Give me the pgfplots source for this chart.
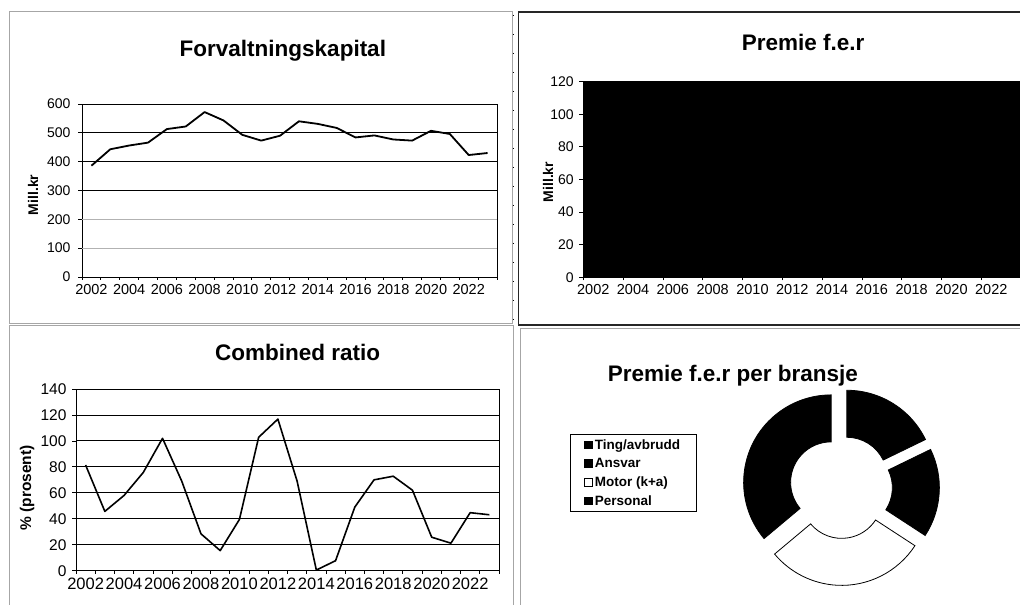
\documentclass[border=0pt]{standalone}
\usepackage{fontspec}
\setmainfont{Liberation Sans}
\usepackage{pgfplots}
\pgfplotsset{compat=1.18}

\newcommand\fs[1]{\fontsize{#1}{#1}\selectfont}

% Excel-like look shared by the three line/area panels
\pgfplotsset{
  excel/.style={
    scale only axis, anchor=south west,
    xmin=2001.5, xmax=2023.5, ymin=0,
    xtick={2002,2004,...,2022},
    major x tick style={draw=none},
    tick align=outside, tick pos=left,
    major tick length=4pt, minor tick length=3pt,
    every tick/.append style={black, line width=0.8pt},
    axis line style={black, line width=0.8pt},
    /pgf/number format/assume math mode=true,
    /pgf/number format/1000 sep={},
    title style={anchor=base, font=\fs{22.5}\bfseries},
  },
}

% one exploded piece of the doughnut: start angle, end angle, fill
\newcommand\ringpart[3]{%
  \path[draw=black, line width=0.8pt, fill=#3,
        shift={(axis cs:0,0)}, shift={({(#1+#2)/2}:10.9pt)}]
    (#1:87.5pt) arc[start angle=#1, end angle=#2, radius=87.5pt]
    -- (#2:40.5pt) arc[start angle=#2, end angle=#1, radius=40.5pt] -- cycle;}

\begin{document}
\begin{tikzpicture}
\useasboundingbox (0pt,0pt) rectangle (1020pt,605pt);
\clip (0pt,0pt) rectangle (1020pt,605pt);

% panel frames
\draw[gray!70, line width=1pt] (9pt,281.5pt) rectangle (512.5pt,593pt);
\draw[black, line width=1pt, dash pattern=on 1pt off 18pt] (513pt,590pt) -- (513pt,283pt);
\draw[black!85, line width=1.5pt] (518.3pt,280pt) rectangle (1030pt,593pt);
\draw[gray!70, line width=1pt] (9pt,-10pt) rectangle (513pt,279pt);
\draw[gray!70, line width=1pt] (520pt,-10pt) rectangle (1030pt,276.5pt);

% ---------- Forvaltningskapital ----------
\begin{axis}[excel,
  at={(82pt,328pt)}, width=415pt, height=173pt,
  ymax=600, ytick={0,300,400,500,600},
  extra y ticks={100,200},
  extra y tick style={grid=major, major grid style={gray!60, line width=0.6pt}},
  minor xtick={2001.5,2002.5,...,2023.5},
  ymajorgrids, major grid style={black, line width=0.9pt},
  xticklabel style={font=\fs{14.5}},
  yticklabel style={font=\fs{14}, xshift=-4pt},
  title={Forvaltningskapital},
  title style={at={(axis description cs:0.484,1.239)}},
  ylabel={Mill.kr},
  every axis y label/.style={at={(axis description cs:-0.118,0.474)}, rotate=90, anchor=center, font=\fs{14}\bfseries},
]
\addplot[black, line width=1.8pt, line join=round, mark=none] table {
x    y
2002 386
2003 443
2004 456
2005 466
2006 513
2007 522
2008 572
2009 543
2010 493
2011 473
2012 490
2013 540
2014 531
2015 517
2016 484
2017 491
2018 477
2019 473
2020 507
2021 496
2022 423
2023 430
};
\end{axis}

% ---------- Premie f.e.r ----------
\begin{axis}[excel,
  at={(583.3pt,327.7pt)}, width=437.8pt, height=195.6pt,
  ymax=120, ytick={0,20,...,120},
  minor xtick={2001.5,2003.5,...,2023.5},
  axis background/.style={fill=black},
  xticklabel style={font=\fs{14.5}},
  yticklabel style={font=\fs{14}, xshift=-2pt},
  title={Premie f.e.r},
  title style={at={(axis description cs:0.502,1.128)}},
  ylabel={Mill.kr},
  every axis y label/.style={at={(axis description cs:-0.0806,0.487)}, rotate=90, anchor=center, font=\fs{14}\bfseries},
]
\end{axis}

% ---------- Combined ratio ----------
\begin{axis}[excel,
  at={(76pt,34.3pt)}, width=423pt, height=181.7pt,
  ymax=140, ytick={0,20,...,140},
  minor xtick={2001.5,2002.5,...,2023.5},
  ymajorgrids, major grid style={black, line width=0.9pt},
  xticklabel style={font=\fs{16.5}},
  yticklabel style={font=\fs{15.5}, xshift=-2pt},
  title={Combined ratio},
  title style={at={(axis description cs:0.524,1.123)}},
  ylabel={\% (prosent)},
  every axis y label/.style={at={(axis description cs:-0.1158,0.455)}, rotate=90, anchor=center, font=\fs{15.5}\bfseries},
]
\addplot[black, line width=1.6pt, line join=round, mark=none] table {
x    y
2002 81.4
2003 45.7
2004 58
2005 75.7
2006 102
2007 69
2008 28.4
2009 15.5
2010 39.5
2011 102.8
2012 116.8
2013 69
2014 0.5
2015 7.7
2016 49
2017 70
2018 72.8
2019 62
2020 25.8
2021 21.2
2022 44.7
2023 43.1
};
\end{axis}

% ---------- Premie f.e.r per bransje (shares in %) ----------
\pgfmathsetmacro\tA{90}
\pgfmathsetmacro\tB{\tA-3.6*17.8} % Ting/avbrudd
\pgfmathsetmacro\tC{\tB-3.6*16.4} % Ansvar
\pgfmathsetmacro\tD{\tC-3.6*29.7} % Motor (k+a)
\pgfmathsetmacro\tE{\tD-3.6*36.1} % Personal
\node[anchor=base, font=\fs{22.5}\bfseries] at (732.8pt,223.3pt) {Premie f.e.r per bransje};
\begin{axis}[
  at={(841pt,118pt)}, anchor=center,
  scale only axis, width=200pt, height=200pt,
  xmin=-100, xmax=100, ymin=-100, ymax=100,
  hide axis,
  legend cell align=left,
  legend image code/.code={\draw[#1, line width=0.8pt] (0pt,-3.8pt) rectangle (7.6pt,3.8pt);},
  legend style={at={(axis description cs:-0.855,0.765)}, anchor=north west,
    draw=black, line width=0.8pt, fill=white, font=\fs{13.5}\bfseries,
    inner xsep=14pt, inner ysep=3pt, row sep=3.5pt},
]
\ringpart{\tA}{\tB}{black}
\ringpart{\tB}{\tC}{black}
\ringpart{\tC}{\tD}{white}
\ringpart{\tD}{\tE}{black}
\addlegendimage{fill=black, draw=black}
\addlegendentry{Ting/avbrudd}
\addlegendimage{fill=black, draw=black}
\addlegendentry{Ansvar}
\addlegendimage{fill=white, draw=black}
\addlegendentry{Motor (k+a)}
\addlegendimage{fill=black, draw=black}
\addlegendentry{Personal}
\end{axis}
\end{tikzpicture}
\end{document}
